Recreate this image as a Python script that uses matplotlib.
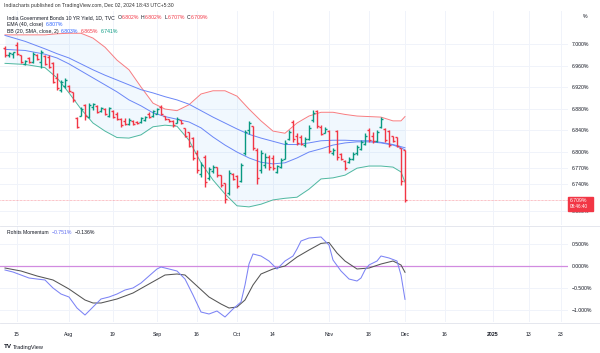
import numpy as np
import matplotlib
matplotlib.use("Agg")
import matplotlib.pyplot as plt
from matplotlib.patches import Rectangle
from matplotlib.lines import Line2D

plt.rcParams['font.family'] = ['Liberation Sans', 'DejaVu Sans']

# ---- daily bars, index 0 = 10 Jul 2024 ... index 100 = 2 Dec 2024 ----
opens = [6.992, 6.980, 6.981, 6.998, 6.980, 6.963, 6.974, 6.967, 6.980, 6.966,
         6.978, 6.976, 6.965, 6.937, 6.915, 6.922, 6.922, 6.911, 6.862, 6.866,
         6.887, 6.864, 6.883, 6.885, 6.875, 6.880, 6.866, 6.876, 6.870, 6.860,
         6.857, 6.851, 6.857, 6.855, 6.855, 6.858, 6.870, 6.866, 6.870, 6.883,
         6.866, 6.860, 6.857, 6.853, 6.859, 6.844, 6.836, 6.825, 6.797, 6.758,
         6.790, 6.751, 6.764, 6.771, 6.756, 6.741, 6.723, 6.758, 6.754, 6.745,
         6.797, 6.840, 6.847, 6.803, 6.766, 6.775, 6.790, 6.788, 6.762, 6.771,
         6.786, 6.823, 6.855, 6.829, 6.827, 6.812, 6.823, 6.858, 6.875, 6.846,
         6.834, 6.838, 6.797, 6.838, 6.795, 6.782, 6.780, 6.786, 6.797, 6.805,
         6.814, 6.840, 6.829, 6.820, 6.846, 6.842, 6.838, 6.829, 6.827, 6.807,
         6.802]
highs = [6.996, 6.985, 6.986, 7.004, 6.980, 6.970, 6.976, 6.985, 6.981, 6.989,
         6.980, 6.980, 6.966, 6.946, 6.933, 6.937, 6.924, 6.911, 6.864, 6.883,
         6.888, 6.890, 6.891, 6.886, 6.883, 6.881, 6.883, 6.877, 6.873, 6.862,
         6.862, 6.862, 6.859, 6.857, 6.864, 6.866, 6.873, 6.877, 6.881, 6.887,
         6.866, 6.860, 6.859, 6.864, 6.859, 6.844, 6.836, 6.827, 6.803, 6.780,
         6.793, 6.771, 6.775, 6.771, 6.756, 6.741, 6.766, 6.760, 6.756, 6.779,
         6.840, 6.857, 6.847, 6.807, 6.803, 6.797, 6.793, 6.793, 6.775, 6.788,
         6.821, 6.840, 6.859, 6.834, 6.831, 6.827, 6.849, 6.877, 6.877, 6.849,
         6.846, 6.840, 6.807, 6.840, 6.797, 6.784, 6.790, 6.799, 6.812, 6.821,
         6.834, 6.844, 6.836, 6.840, 6.864, 6.844, 6.840, 6.829, 6.827, 6.807,
         6.802]
lows = [6.976, 6.976, 6.974, 6.980, 6.965, 6.961, 6.965, 6.965, 6.970, 6.955,
        6.961, 6.955, 6.927, 6.914, 6.911, 6.918, 6.911, 6.892, 6.844, 6.866,
        6.859, 6.862, 6.877, 6.872, 6.873, 6.868, 6.864, 6.862, 6.859, 6.846,
        6.849, 6.849, 6.849, 6.851, 6.853, 6.857, 6.862, 6.864, 6.870, 6.868,
        6.859, 6.855, 6.846, 6.853, 6.851, 6.827, 6.808, 6.784, 6.760, 6.753,
        6.734, 6.747, 6.760, 6.753, 6.734, 6.704, 6.719, 6.747, 6.732, 6.743,
        6.793, 6.833, 6.803, 6.740, 6.760, 6.769, 6.766, 6.766, 6.760, 6.769,
        6.786, 6.821, 6.818, 6.812, 6.812, 6.808, 6.821, 6.855, 6.844, 6.831,
        6.834, 6.797, 6.793, 6.784, 6.784, 6.766, 6.779, 6.784, 6.793, 6.803,
        6.812, 6.818, 6.816, 6.818, 6.844, 6.818, 6.808, 6.818, 6.808, 6.738,
        6.707]
closes = [6.980, 6.984, 6.985, 6.982, 6.967, 6.968, 6.966, 6.982, 6.972, 6.985,
          6.963, 6.958, 6.930, 6.918, 6.929, 6.933, 6.913, 6.895, 6.846, 6.879,
          6.866, 6.886, 6.889, 6.874, 6.881, 6.870, 6.881, 6.864, 6.860, 6.849,
          6.851, 6.859, 6.851, 6.853, 6.862, 6.864, 6.864, 6.875, 6.879, 6.869,
          6.860, 6.856, 6.849, 6.861, 6.853, 6.829, 6.810, 6.788, 6.766, 6.775,
          6.743, 6.768, 6.771, 6.756, 6.738, 6.712, 6.760, 6.749, 6.736, 6.775,
          6.836, 6.853, 6.806, 6.751, 6.797, 6.790, 6.771, 6.770, 6.773, 6.784,
          6.816, 6.836, 6.823, 6.816, 6.814, 6.823, 6.844, 6.872, 6.847, 6.833,
          6.842, 6.801, 6.803, 6.790, 6.786, 6.769, 6.786, 6.795, 6.808, 6.818,
          6.829, 6.821, 6.820, 6.836, 6.860, 6.821, 6.812, 6.820, 6.810, 6.745,
          6.709]

# ---- indicator lines (bar index -> value) ----
bb_idx = [0, 5, 10, 13, 16, 19, 22, 25, 28, 31, 34, 37, 40, 43, 46, 49, 52, 55,
          58, 61, 64, 67, 70, 73, 76, 79, 82, 85, 88, 91, 94, 97, 99, 100]
bb_upper = [7.017, 7.017, 7.017, 7.019, 7.020, 7.020, 7.011, 6.994, 6.970, 6.952,
            6.920, 6.890, 6.879, 6.876, 6.887, 6.907, 6.913, 6.913, 6.903, 6.879,
            6.857, 6.838, 6.834, 6.853, 6.866, 6.873, 6.873, 6.869, 6.866, 6.865,
            6.864, 6.857, 6.857, 6.865]
bb_basis = [6.990, 6.988, 6.981, 6.974, 6.963, 6.950, 6.937, 6.924, 6.911, 6.896,
            6.885, 6.872, 6.865, 6.860, 6.855, 6.844, 6.827, 6.812, 6.799, 6.788,
            6.780, 6.777, 6.779, 6.788, 6.799, 6.805, 6.812, 6.816, 6.818, 6.818,
            6.816, 6.812, 6.807, 6.803]
bb_lower = [6.964, 6.962, 6.956, 6.937, 6.909, 6.879, 6.853, 6.838, 6.826, 6.825,
            6.831, 6.846, 6.849, 6.847, 6.821, 6.779, 6.747, 6.721, 6.699, 6.697,
            6.702, 6.710, 6.713, 6.715, 6.730, 6.749, 6.751, 6.756, 6.769, 6.773,
            6.773, 6.771, 6.762, 6.743]
ema40 = [7.016, 7.005, 6.991, 6.982, 6.974, 6.963, 6.952, 6.942, 6.933, 6.924,
         6.915, 6.909, 6.902, 6.896, 6.888, 6.876, 6.864, 6.853, 6.842, 6.832,
         6.825, 6.819, 6.813, 6.813, 6.816, 6.820, 6.821, 6.821, 6.820, 6.820,
         6.817, 6.813, 6.809, 6.807]

mom_idx = [0, 2, 4, 6, 8, 10, 12, 14, 16, 18, 20, 22, 24, 26, 28, 30, 32, 34, 36,
           38, 39, 41, 43, 45, 47, 49, 51, 53, 55, 57, 59, 60, 61, 62, 64, 66, 68,
           70, 72, 73, 74, 76, 79, 81, 82, 84, 86, 88, 89, 90, 91, 93, 94, 96, 98,
           99, 100]
mom_fast = [-0.084, -0.130, -0.198, -0.266, -0.289, -0.311, -0.493, -0.630, -0.698,
            -0.948, -1.107, -0.925, -0.743, -0.698, -0.630, -0.539, -0.493, -0.380,
            -0.220, -0.061, -0.016, -0.061, -0.107, -0.289, -0.652, -1.039, -1.084,
            -1.016, -1.152, -0.970, -0.811, -0.425, 0.052, 0.280, 0.234, 0.120,
            -0.061, 0.120, 0.234, 0.393, 0.575, 0.643, 0.666, 0.484, 0.143, -0.107,
            -0.289, -0.334, -0.266, -0.084, 0.030, 0.120, 0.234, 0.189, 0.120,
            -0.198, -0.751]
sig_idx = [0, 4, 8, 12, 16, 20, 22, 24, 28, 32, 36, 40, 43, 45, 48, 51, 54, 56, 58,
           60, 62, 64, 67, 70, 73, 76, 79, 81, 83, 85, 88, 91, 94, 97, 99, 100]
mom_signal = [-0.039, -0.107, -0.220, -0.311, -0.516, -0.766, -0.834, -0.834,
              -0.743, -0.607, -0.402, -0.198, -0.175, -0.198, -0.448, -0.698,
              -0.857, -0.948, -0.925, -0.766, -0.425, -0.175, -0.061, 0.007,
              0.211, 0.370, 0.520, 0.540, 0.302, 0.120, -0.061, -0.039, 0.052,
              0.120, 0.030, -0.136]

date_pos = [3, 16, 27, 38, 48, 58, 67, 81, 91, 100, 110, 122, 131, 139]
date_lbl = ["15", "Aug", "19", "Sep", "16", "Oct", "14", "Nov", "18", "Dec",
            "16", "2025", "13", "23"]
price_ticks = [7.000, 6.960, 6.920, 6.880, 6.840, 6.800, 6.770, 6.740, 6.690]
mom_ticks = [0.5, 0.0, -0.5, -1.0]

RED = "#f23645"
GREEN = "#089981"
TXT = "#131722"
GRID = "#f0f3fa"
FS = 3.7

W, H = 600, 353
fig = plt.figure(figsize=(W / 100, H / 100), dpi=100)
renderer = fig.canvas.get_renderer()


def fx(x):
    return x / W


def fy(y):
    return 1 - y / H


ax1 = fig.add_axes([0, fy(225), fx(568), fy(11) - fy(225)])
ax2 = fig.add_axes([0, fy(322), fx(568), fy(226) - fy(322)], sharex=ax1)

for ax in (ax1, ax2):
    for s in ax.spines.values():
        s.set_visible(False)
    ax.yaxis.tick_right()
    ax.tick_params(length=0, labelsize=FS, labelcolor=TXT, pad=3)
    for p in date_pos:
        ax.axvline(p, color=GRID, lw=0.7, zorder=0)

ax1.set_xlim(-1.25, 140.75)
ax1.set_ylim(6.6633, 7.0614)
ax1.set_yticks(price_ticks)
ax1.set_yticklabels([f"{v:.3f}%" for v in price_ticks])
for v in price_ticks:
    ax1.axhline(v, color=GRID, lw=0.7, zorder=0)
ax1.tick_params(axis="x", labelbottom=False)

# Bollinger fill + lines, EMA
ax1.fill_between(bb_idx, bb_lower, bb_upper, color="#2196f3", alpha=0.06, lw=0, zorder=1)
ax1.plot(bb_idx, bb_upper, color="#f77c80", lw=0.7, zorder=2)
ax1.plot(bb_idx, bb_lower, color="#4fb8a0", lw=0.7, zorder=2)
ax1.plot(bb_idx, bb_basis, color="#6a86f7", lw=0.7, zorder=2)
ax1.plot(bb_idx, ema40, color="#6a86f7", lw=0.7, zorder=2)

# OHLC bars
o, h, l, c = map(np.array, (opens, highs, lows, closes))
idx = np.arange(len(c))
col = np.where(c >= o, GREEN, RED)
ax1.vlines(idx, l, h, colors=col, lw=1.0, zorder=3)
ax1.hlines(o, idx - 0.5, idx, colors=col, lw=1.0, zorder=3)
ax1.hlines(c, idx, idx + 0.5, colors=col, lw=1.0, zorder=3)

# last price line + label
ax1.axhline(closes[-1], color=RED, lw=0.5, ls=(0, (1, 1)), alpha=0.6, zorder=1)
fig.patches.append(Rectangle((fx(568), fy(211)), fx(25), fy(197) - fy(211),
                             transform=fig.transFigure, color=RED, zorder=5))
fig.text(fx(570), fy(201), f"{closes[-1]:.3f}%", color="white", fontsize=FS,
         va="center", zorder=6)
fig.text(fx(570), fy(207), "08:46:40", color="white", fontsize=FS - 0.4,
         va="center", zorder=6)

# momentum pane
ax2.set_ylim(-1.266, 0.916)
ax2.set_yticks(mom_ticks)
ax2.set_yticklabels([f"{v:.3f}%".replace("-", "\u2212") for v in mom_ticks])
for v in mom_ticks:
    ax2.axhline(v, color=GRID, lw=0.7, zorder=0)
ax2.axhline(0, color="#d18be0", lw=0.9, zorder=1)
ax2.plot(mom_idx, mom_fast, color="#7c83f5", lw=0.75, zorder=3)
ax2.plot(sig_idx, mom_signal, color="#555555", lw=0.75, zorder=2)
ax2.set_xticks(date_pos)
ax2.set_xticklabels(date_lbl)
ax2.tick_params(axis="x", pad=7)
for t in ax2.get_xticklabels():
    if t.get_text() == "2025":
        t.set_fontweight("bold")

# pane separators
fig.add_artist(Line2D([0, 1], [fy(225.5), fy(225.5)], color="#e0e3eb", lw=0.6))
fig.add_artist(Line2D([0, 1], [fy(322.5), fy(322.5)], color="#e0e3eb", lw=0.6))

# header and legends
fig.text(fx(4), fy(6), "Indiacharts published on TradingView.com, Dec 02, 2024 18:43 UTC+5:30",
         fontsize=FS, color="#333333", va="center")
fig.text(fx(583), fy(17), "%", fontsize=FS, color=TXT, va="center")


def row(y, parts, x0=7):
    # lay texts one after another, each part: (text, colour, gap before in px)
    x = x0
    for s, colr, gap in parts:
        x += gap
        t = fig.text(fx(x), fy(y), s, fontsize=FS, color=colr, va="center")
        x = t.get_window_extent(renderer).x1


row(17.5, [("India Government Bonds 10 YR Yield, 1D, TVC", TXT, 0),
           ("O", TXT, 2.5), ("6.802%", RED, 0.3),
           ("H", TXT, 2.0), ("6.802%", RED, 0.3),
           ("L", TXT, 2.0), ("6.707%", RED, 0.3),
           ("C", TXT, 2.0), ("6.709%", RED, 0.3)])
row(24.5, [("EMA (40, close)", TXT, 0), ("6.807%", "#2962ff", 2.5)])
row(31.5, [("BB (20, SMA, close, 2)", TXT, 0), ("6.803%", "#2962ff", 2.5),
           ("6.865%", RED, 2.5), ("6.741%", GREEN, 2.5)])
row(232.5, [("Rohits Momentum", TXT, 0), ("\u22120.751%", "#5c6bf0", 3),
            ("\u22120.136%", TXT, 3)])

fig.text(fx(4), fy(347), "TV", fontsize=FS + 0.8, fontweight="bold", color=TXT, va="center")
fig.text(fx(13), fy(347), "TradingView", fontsize=FS + 0.4, color=TXT, va="center")

fig.savefig("out.png", dpi=100, facecolor="white")
